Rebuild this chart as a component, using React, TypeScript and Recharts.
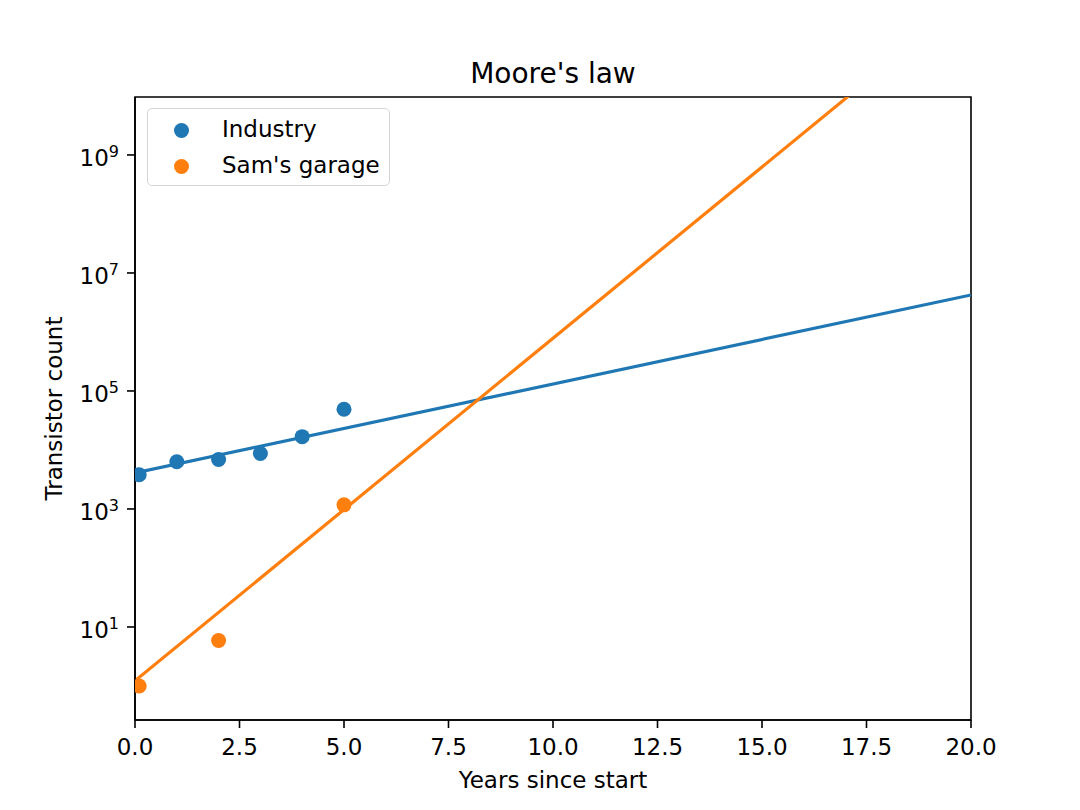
import React from 'react';
import { ComposedChart, Scatter, Line, XAxis, YAxis, Legend, ReferenceArea } from 'recharts';

// values
const industryYears = [0.1, 1, 2, 3, 4, 5];
const industryCounts = [3800, 6300, 6900, 8700, 16800, 49000];
const garageYears = [0.1, 2, 5];
const garageCounts = [1.0, 5.9, 1175];
const fitYears = [0, 20];
const industryFit = [4070, 4.24e6];
const garageFit = [1.22, 5.0e11];

const xTicks = [0, 2.5, 5, 7.5, 10, 12.5, 15, 17.5, 20];
const yTicks = [10, 1e3, 1e5, 1e7, 1e9];
const Y_MIN = 0.265;
const Y_MAX = 9.6e9;

const BLUE = '#1f77b4';
const ORANGE = '#ff7f0e';
const FONT = '"DejaVu Sans", sans-serif';

const pairs = (xs: number[], ys: number[]) => xs.map((x, i) => ({ x, y: ys[i] }));

const industryPts = pairs(industryYears, industryCounts);
const garagePts = pairs(garageYears, garageCounts);
const industryLine = pairs(fitYears, industryFit);
const garageLine = pairs(fitYears, garageFit);

const XTick = ({ x, y, payload }: any) => (
  <text x={x} y={y} dy={19} textAnchor="middle" fontSize={23} fontFamily={FONT} fill="#000">
    {Number(payload.value).toFixed(1)}
  </text>
);

const YTick = ({ x, y, payload }: any) => {
  const exp = Math.round(Math.log10(payload.value));
  return (
    <text x={x} y={y + 11} textAnchor="end" fontSize={23} fontFamily={FONT} fill="#000">
      <tspan>10</tspan>
      <tspan dy={-9} fontSize={16}>{exp}</tspan>
    </text>
  );
};

const LegendBox = () => (
  <div
    style={{
      width: 243,
      height: 78,
      border: '1.5px solid #d6d6d6',
      borderRadius: 5,
      background: 'rgba(255,255,255,0.8)',
      boxSizing: 'border-box',
      fontFamily: FONT,
      fontSize: 23,
      position: 'relative',
    }}
  >
    {[
      { name: 'Industry', color: BLUE, top: 21 },
      { name: "Sam's garage", color: ORANGE, top: 57 },
    ].map((e) => (
      <div key={e.name}>
        <span
          style={{
            position: 'absolute',
            left: 25.5,
            top: e.top - 7.5,
            width: 15,
            height: 15,
            borderRadius: '50%',
            background: e.color,
          }}
        />
        <span style={{ position: 'absolute', left: 74, top: e.top - 15, lineHeight: '28px', whiteSpace: 'nowrap' }}>
          {e.name}
        </span>
      </div>
    ))}
  </div>
);

export default function App() {
  return (
    <div style={{ position: 'absolute', left: 0, top: 0, width: 1080, height: 810, background: '#fff' }}>
      <ComposedChart width={1080} height={810} margin={{ top: 97, right: 109, bottom: 50, left: 75 }}>
        <XAxis
          dataKey="x"
          type="number"
          domain={[0, 20]}
          ticks={xTicks}
          allowDataOverflow
          height={40}
          tickSize={8}
          tickMargin={8}
          tick={<XTick />}
          axisLine={{ stroke: '#000', strokeWidth: 1.6 }}
          tickLine={{ stroke: '#000', strokeWidth: 1.6 }}
          label={{
            content: ({ viewBox }: any) => (
              <text
                x={viewBox.x + viewBox.width / 2}
                y={788}
                textAnchor="middle"
                fontSize={23}
                fontFamily={FONT}
                fill="#000"
              >
                Years since start
              </text>
            ),
          }}
        />
        <YAxis
          dataKey="y"
          type="number"
          scale="log"
          domain={[Y_MIN, Y_MAX]}
          ticks={yTicks}
          allowDataOverflow
          width={60}
          tickSize={8}
          tickMargin={8}
          tick={<YTick />}
          axisLine={{ stroke: '#000', strokeWidth: 1.6 }}
          tickLine={{ stroke: '#000', strokeWidth: 1.6 }}
          label={{
            content: ({ viewBox }: any) => {
              const cx = 62;
              const cy = viewBox.y + viewBox.height / 2;
              return (
                <text
                  x={cx}
                  y={cy}
                  transform={`rotate(-90 ${cx} ${cy})`}
                  textAnchor="middle"
                  fontSize={23}
                  fontFamily={FONT}
                  fill="#000"
                >
                  Transistor count
                </text>
              );
            },
          }}
        />
        <ReferenceArea
          x1={0}
          x2={20}
          y1={Y_MIN}
          y2={Y_MAX}
          fill="none"
          stroke="#000"
          strokeWidth={1.6}
          label={{
            content: ({ viewBox }: any) => (
              <text
                x={viewBox.x + viewBox.width / 2}
                y={83}
                textAnchor="middle"
                fontSize={28}
                fontFamily={FONT}
                fill="#000"
              >
                Moore's law
              </text>
            ),
          }}
        />
        <Legend
          layout="vertical"
          align="center"
          verticalAlign="middle"
          wrapperStyle={{ left: 147, top: 108, width: 243 }}
          content={() => <LegendBox />}
        />
        <Scatter name="Industry" data={industryPts} dataKey="y" fill={BLUE} shape={(p: any) => <circle cx={p.cx} cy={p.cy} r={7.5} fill={BLUE} />} isAnimationActive={false} />
        <Scatter name="Sam's garage" data={garagePts} dataKey="y" fill={ORANGE} shape={(p: any) => <circle cx={p.cx} cy={p.cy} r={7.5} fill={ORANGE} />} isAnimationActive={false} />
        <Line data={industryLine} dataKey="y" stroke={BLUE} strokeWidth={3.2} dot={false} legendType="none" isAnimationActive={false} />
        <Line data={garageLine} dataKey="y" stroke={ORANGE} strokeWidth={3.2} dot={false} legendType="none" isAnimationActive={false} />
      </ComposedChart>
    </div>
  );
}
